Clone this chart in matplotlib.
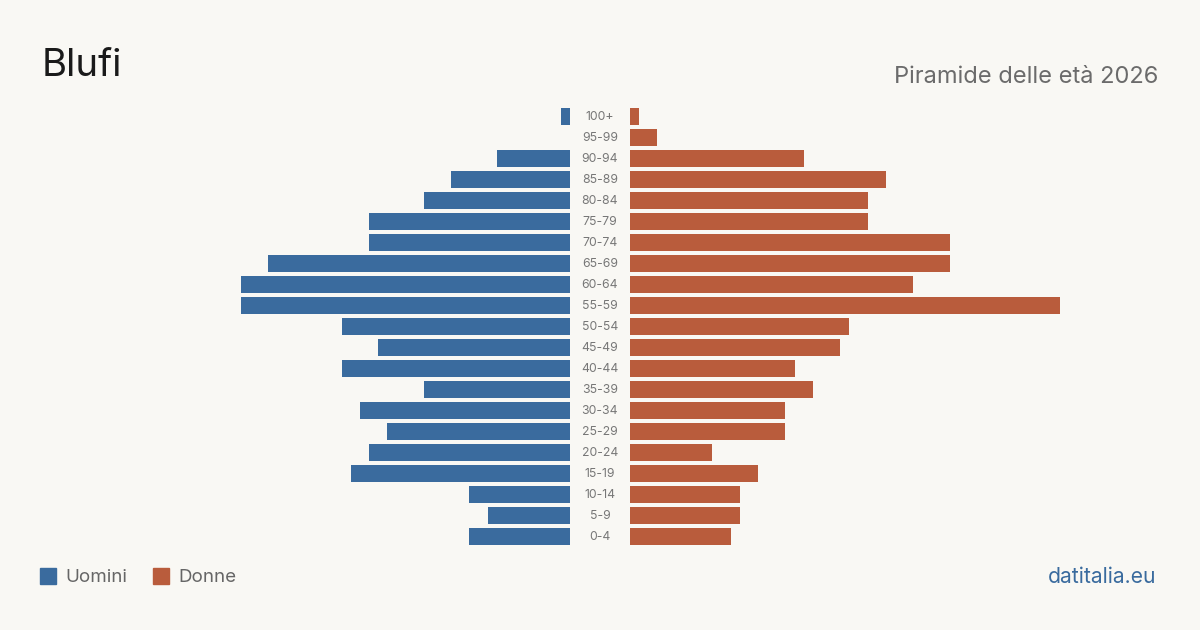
import matplotlib
matplotlib.use("Agg")
import matplotlib.pyplot as plt
from matplotlib.patches import Rectangle

age_groups = ["0-4", "5-9", "10-14", "15-19", "20-24", "25-29", "30-34", "35-39",
              "40-44", "45-49", "50-54", "55-59", "60-64", "65-69", "70-74", "75-79",
              "80-84", "85-89", "90-94", "95-99", "100+"]
men = [11, 9, 11, 24, 22, 20, 23, 16, 25, 21, 25, 36, 36, 33, 22, 22, 16, 13, 8, 0, 1]
women = [11, 12, 12, 14, 9, 17, 17, 20, 18, 23, 24, 47, 31, 35, 35, 26, 26, 28, 19, 3, 1]

title = "Blufi"
subtitle = "Piramide delle età 2026"
legend_labels = ["Uomini", "Donne"]
source = "datitalia.eu"

BG = "#f9f8f4"
BLUE = "#3a6b9e"
ORANGE = "#b95c3c"
plt.rcParams['font.family'] = ['Inter', 'DejaVu Sans']

W, H = 1200, 630
fig = plt.figure(figsize=(W / 100, H / 100), dpi=100, facecolor=BG)

PX = 9.14  # pixels per unit
y_top, y_bot = 106, 547
left_l, left_r = 100, 570
right_l, right_r = 630, 1100

def ax_rect(x0, x1):
    return [x0 / W, 1 - y_bot / H, (x1 - x0) / W, (y_bot - y_top) / H]

axL = fig.add_axes(ax_rect(left_l, left_r))
axR = fig.add_axes(ax_rect(right_l, right_r))
ypos = list(range(len(age_groups)))
axL.barh(ypos, men, height=0.81, color=BLUE)
axR.barh(ypos, women, height=0.81, color=ORANGE)
axL.set_xlim((left_r - left_l) / PX, 0)
axR.set_xlim(0, (right_r - right_l) / PX)
for ax in (axL, axR):
    ax.set_ylim(-0.5, len(age_groups) - 0.5)
    ax.axis("off")
    ax.set_facecolor("none")

# age labels in the middle
for i, lab in enumerate(age_groups):
    yp = 1 - (537 - 21 * i) / H
    fig.text(600 / W, yp, lab, ha="center", va="center", fontsize=8.8, color="#777777")

fig.text(42 / W, 1 - 66 / H, title, ha="left", va="center", fontsize=27.5, color="#1a1a1a")
fig.text(1158 / W, 1 - 77 / H, subtitle, ha="right", va="center", fontsize=17, color="#6b6b6b")

# legend
for x0, col, lab in [(40, BLUE, legend_labels[0]), (153, ORANGE, legend_labels[1])]:
    fig.patches.append(Rectangle((x0 / W, 1 - 584 / H), 16 / W, 16 / H,
                                 transform=fig.transFigure, color=col))
    fig.text((x0 + 25) / W, 1 - 577 / H, lab, ha="left", va="center", fontsize=13.5, color="#666666")

fig.text(1156 / W, 1 - 577 / H, source, ha="right", va="center", fontsize=15.2, color=BLUE)

fig.savefig("out.png", dpi=100, facecolor=BG)
